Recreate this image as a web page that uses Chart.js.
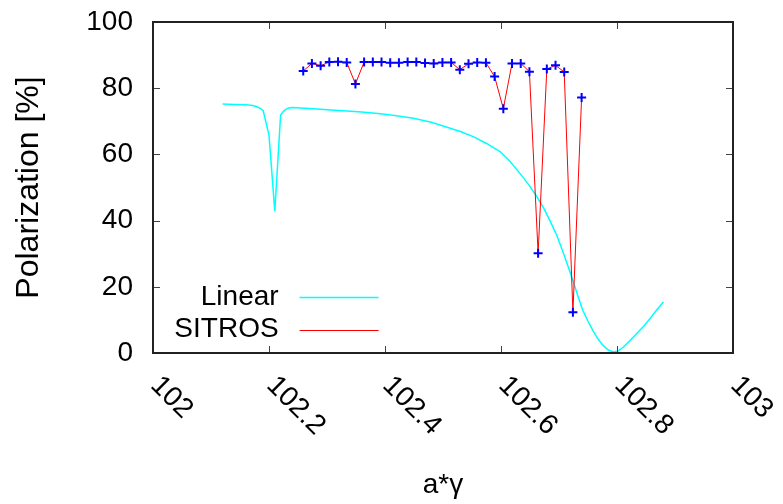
<!DOCTYPE html>
<html><head><meta charset="utf-8">
<script src="https://cdn.jsdelivr.net/npm/chart.js@4.4.0/dist/chart.umd.min.js"></script>
<style>html,body{margin:0;padding:0;background:#fff}#wrap{width:783px;height:504px}</style>
</head><body><div id="wrap"><canvas id="c" width="783" height="504"></canvas></div>
<script>
const seriesNames = ['Linear', 'SITROS'];
const xTickValues = [102, 102.2, 102.4, 102.6, 102.8, 103];
const xTickLabels = ['102', '102.2', '102.4', '102.6', '102.8', '103'];
const yTickValues = [0, 20, 40, 60, 80, 100];

const linearX = [102.120, 102.140, 102.160, 102.172, 102.179, 102.185, 102.190, 102.200, 102.210, 102.220,
  102.225, 102.229, 102.234, 102.240, 102.277, 102.300, 102.334, 102.360, 102.392, 102.420,
  102.449, 102.480, 102.507, 102.530, 102.553, 102.575, 102.599, 102.615, 102.633, 102.648,
  102.662, 102.675, 102.687, 102.697, 102.708, 102.716, 102.725, 102.733, 102.741, 102.750,
  102.758, 102.767, 102.776, 102.785, 102.794, 102.802, 102.811, 102.822, 102.834, 102.846,
  102.857, 102.868, 102.880];
const linearY = [75.2, 75.1, 75.0, 74.8, 74.4, 73.9, 73.2, 65.8, 42.8, 71.9,
  73.0, 73.6, 74.0, 74.2, 73.8, 73.5, 73.1, 72.8, 72.3, 71.7,
  70.9, 69.7, 68.2, 66.9, 65.3, 63.3, 60.8, 58.0, 54.2, 50.8,
  47.2, 43.3, 39.0, 35.2, 30.0, 26.0, 21.3, 17.0, 12.9, 9.6,
  6.9, 4.3, 2.3, 0.9, 0.3, 0.6, 1.8, 3.7, 5.9, 8.1,
  10.4, 12.9, 15.4];

const sitrosX = [102.259, 102.274, 102.289, 102.304, 102.319, 102.334, 102.349, 102.364, 102.379, 102.394,
  102.409, 102.424, 102.439, 102.454, 102.469, 102.484, 102.499, 102.514, 102.529, 102.544,
  102.559, 102.574, 102.589, 102.604, 102.619, 102.634, 102.649, 102.664, 102.679, 102.694,
  102.709, 102.724, 102.739];
const sitrosY = [85.2, 87.5, 86.8, 87.9, 88.0, 87.8, 81.3, 87.9, 87.9, 87.9,
  87.7, 87.7, 87.9, 87.9, 87.6, 87.5, 87.8, 87.8, 85.6, 87.4,
  87.8, 87.7, 83.5, 73.8, 87.5, 87.5, 85.0, 30.1, 85.8, 86.9,
  84.9, 12.3, 77.2];

const FONT = '"Liberation Sans", Arial, Helvetica, sans-serif';
const toXY = (xs, ys) => xs.map((x, i) => ({x: x, y: ys[i]}));

const framePlugin = {
  id: 'frame',
  afterDraw(chart) {
    const ctx = chart.ctx;
    const a = chart.chartArea;
    const xs = chart.scales.x, ys = chart.scales.y;
    ctx.save();
    ctx.strokeStyle = '#444';
    ctx.lineWidth = 1;
    const tl = 7;
    ctx.beginPath();
    xTickValues.forEach(v => {
      const px = Math.round(xs.getPixelForValue(v)) + 0.5;
      ctx.moveTo(px, a.bottom); ctx.lineTo(px, a.bottom - tl);
      ctx.moveTo(px, a.top); ctx.lineTo(px, a.top + tl);
    });
    yTickValues.forEach(v => {
      const py = Math.round(ys.getPixelForValue(v)) + 0.5;
      ctx.moveTo(a.left, py); ctx.lineTo(a.left + tl, py);
      ctx.moveTo(a.right, py); ctx.lineTo(a.right - tl, py);
    });
    ctx.stroke();
    ctx.strokeStyle = '#222';
    ctx.lineWidth = 2;
    ctx.strokeRect(a.left, a.top, a.right - a.left, a.bottom - a.top);
    ctx.fillStyle = '#000';
    ctx.font = '28px ' + FONT;
    ctx.textAlign = 'left';
    ctx.textBaseline = 'middle';
    xTickValues.forEach((v, i) => {
      const px = xs.getPixelForValue(v);
      ctx.save();
      ctx.translate(px + 2, a.bottom + 28);
      ctx.rotate(Math.PI / 4);
      ctx.fillText(xTickLabels[i], 0, 0);
      ctx.restore();
    });
    const ds = chart.data.datasets;
    const rows = [a.bottom - 56, a.bottom - 23.5];
    ctx.textAlign = 'right';
    ds.forEach((d, i) => {
      const y = rows[i];
      ctx.fillStyle = '#000';
      ctx.fillText(d.label, a.left + 125.6, y);
      ctx.strokeStyle = d.borderColor;
      ctx.lineWidth = d.borderWidth;
      ctx.beginPath();
      ctx.moveTo(a.left + 146.6, Math.round(y) + 0.5);
      ctx.lineTo(a.left + 225.6, Math.round(y) + 0.5);
      ctx.stroke();
    });
    ctx.restore();
  }
};

new Chart(document.getElementById('c'), {
  type: 'scatter',
  data: {
    datasets: [
      {
        label: seriesNames[0],
        data: toXY(linearX, linearY),
        showLine: true,
        borderColor: '#00ffff',
        borderWidth: 1.5,
        pointRadius: 0,
        tension: 0,
        order: 2
      },
      {
        label: seriesNames[1],
        data: toXY(sitrosX, sitrosY),
        showLine: true,
        borderColor: '#ff0000',
        borderWidth: 1,
        pointStyle: 'cross',
        pointRadius: 4.5,
        pointBorderColor: '#0000ff',
        pointBackgroundColor: '#0000ff',
        pointBorderWidth: 2,
        tension: 0,
        order: 1
      }
    ]
  },
  options: {
    responsive: false,
    animation: false,
    devicePixelRatio: 1,
    layout: {padding: {top: 22, right: 50, bottom: 0, left: 0}},
    plugins: {legend: {display: false}, tooltip: {enabled: false}},
    scales: {
      x: {
        type: 'linear',
        min: 102, max: 103,
        afterBuildTicks(s) { s.ticks = xTickValues.map(v => ({value: v})); },
        afterFit(s) { s.height = 151; },
        ticks: {display: false},
        grid: {display: false, drawTicks: false},
        border: {display: false},
        title: {display: true, text: 'a*γ', color: '#000', font: {family: FONT, size: 28}, padding: {top: 0, bottom: 2}}
      },
      y: {
        type: 'linear',
        min: 0, max: 100,
        afterBuildTicks(s) { s.ticks = yTickValues.map(v => ({value: v})); },
        afterFit(s) { s.width = 153; },
        ticks: {color: '#000', padding: 0, font: {family: FONT, size: 28}},
        grid: {display: true, drawOnChartArea: false, drawTicks: true, tickLength: 20, tickColor: 'rgba(0,0,0,0)'},
        border: {display: false},
        title: {display: true, text: 'Polarization [%]', color: '#000', font: {family: FONT, size: 32}, padding: {top: 10, bottom: 0}}
      }
    }
  },
  plugins: [framePlugin]
});
</script>
</body></html>
